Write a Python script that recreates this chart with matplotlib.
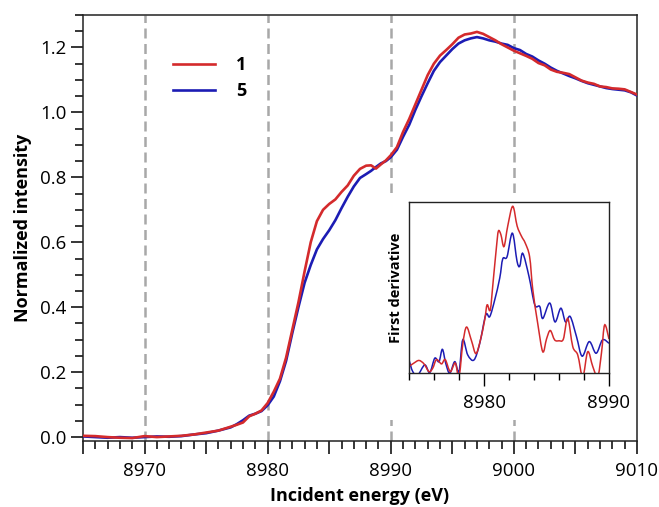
import numpy as np
import matplotlib.pyplot as plt
from matplotlib.patches import Rectangle, PathPatch
from matplotlib.path import Path
from matplotlib.ticker import MultipleLocator, FuncFormatter

plt.rcParams['font.family'] = ['Open Sans', 'DejaVu Sans']

# main spectra (normalized XANES)
energy = [8965, 8966, 8967, 8968, 8969, 8970, 8971, 8972, 8973, 8974, 8975, 8976, 8977,
          8977.5, 8978, 8978.5, 8979, 8979.5, 8980, 8980.5, 8981, 8981.5, 8982, 8982.5,
          8983, 8983.5, 8984, 8984.5, 8985, 8985.5, 8986, 8986.5, 8987, 8987.5, 8988,
          8988.4, 8988.8, 8989.2, 8989.6, 8990, 8990.5, 8991, 8991.5, 8992, 8992.5, 8993,
          8993.5, 8994, 8994.5, 8995, 8995.5, 8996, 8996.5, 8997, 8997.5, 8998, 8998.5,
          8999, 8999.5, 9000, 9000.5, 9001, 9001.5, 9002, 9002.5, 9003, 9003.5, 9004,
          9004.5, 9005, 9005.5, 9006, 9006.5, 9007, 9007.5, 9008, 9008.5, 9009, 9009.5, 9010]
sample1 = [0.004, 0.003, 0.0, -0.002, -0.003, 0.003, 0.0, 0.002, 0.004, 0.008, 0.014, 0.02, 0.032,
           0.038, 0.045, 0.064, 0.072, 0.082, 0.105, 0.14, 0.18, 0.245, 0.33, 0.415,
           0.51, 0.6, 0.665, 0.7, 0.718, 0.732, 0.755, 0.775, 0.805, 0.826, 0.836,
           0.837, 0.827, 0.84, 0.852, 0.868, 0.893, 0.94, 0.98, 1.025, 1.07, 1.115,
           1.15, 1.175, 1.192, 1.21, 1.23, 1.24, 1.243, 1.248, 1.242, 1.232, 1.222,
           1.21, 1.2, 1.19, 1.182, 1.174, 1.165, 1.152, 1.145, 1.132, 1.125, 1.122,
           1.118, 1.108, 1.098, 1.092, 1.088, 1.08, 1.078, 1.074, 1.073, 1.071, 1.063, 1.055]
sample5 = [0.002, 0.0, -0.002, 0.0, -0.002, 0.0, 0.002, 0.001, 0.003, 0.008, 0.012, 0.02, 0.03,
           0.04, 0.052, 0.066, 0.072, 0.08, 0.098, 0.125, 0.172, 0.235, 0.32, 0.4,
           0.475, 0.53, 0.578, 0.61, 0.637, 0.668, 0.705, 0.74, 0.772, 0.798, 0.81,
           0.82, 0.832, 0.843, 0.85, 0.862, 0.885, 0.925, 0.962, 1.008, 1.05, 1.09,
           1.128, 1.155, 1.175, 1.195, 1.212, 1.222, 1.228, 1.232, 1.228, 1.222, 1.218,
           1.212, 1.208, 1.198, 1.192, 1.18, 1.172, 1.16, 1.15, 1.138, 1.128, 1.12,
           1.112, 1.105, 1.097, 1.09, 1.085, 1.08, 1.075, 1.072, 1.07, 1.068, 1.062, 1.052]

# first derivative (arbitrary units)
e_der1 = [8974.0, 8974.4, 8974.8, 8975.2, 8975.6, 8975.9, 8976.2, 8976.6, 8976.9, 8977.3,
          8977.7, 8978.0, 8978.3, 8978.6, 8979.0, 8979.35, 8979.7, 8980.05, 8980.25, 8980.5,
          8980.75, 8981.0, 8981.15, 8981.35, 8981.6, 8981.9, 8982.3, 8982.65, 8983.0, 8983.3,
          8983.65, 8983.9, 8984.3, 8984.7, 8985.0, 8985.3, 8985.65, 8986.0, 8986.35, 8986.7,
          8987.1, 8987.5, 8987.9, 8988.3, 8988.7, 8989.1, 8989.4, 8989.65, 8990.0]
der1 = [0.04, 0.06, 0.075, 0.055, 0.01, 0.03, 0.08, 0.055, 0.08, 0.01,
        0.06, -0.02, 0.17, 0.27, 0.19, 0.115, 0.19, 0.31, 0.40, 0.37,
        0.55, 0.74, 0.83, 0.81, 0.74, 0.86, 0.975, 0.86, 0.80, 0.76,
        0.68, 0.49, 0.29, 0.126, 0.2, 0.25, 0.195, 0.19, 0.2, 0.32,
        0.156, 0.107, -0.02, 0.126, 0.04, -0.02, 0.12, 0.282, 0.20]
e_der5 = [8974.0, 8974.3, 8974.7, 8975.26, 8975.66, 8976.06, 8976.4, 8976.67, 8976.94, 8977.26,
          8977.66, 8978.0, 8978.3, 8978.7, 8979.2, 8979.66, 8980.14, 8980.46, 8980.86, 8981.26,
          8981.5, 8981.84, 8982.27, 8982.64, 8982.86, 8983.1, 8983.6, 8984.06, 8984.46, 8984.7,
          8985.26, 8985.68, 8986.15, 8986.52, 8986.9, 8987.4, 8987.85, 8988.42, 8988.97, 8989.48, 8990.0]
der5 = [0.078, 0.01, -0.01, 0.049, 0.004, 0.088, 0.068, 0.14, 0.058, 0.0,
        0.068, 0.01, 0.195, 0.107, 0.078, 0.175, 0.341, 0.331, 0.429, 0.556,
        0.668, 0.68, 0.818, 0.655, 0.625, 0.70, 0.565, 0.40, 0.39, 0.32,
        0.41, 0.30, 0.38, 0.30, 0.331, 0.214, 0.10, 0.185, 0.117, 0.195, 0.175]

red = '#d42a2c'
blue = '#1c1cb4'
grey = '#a8a8a8'


def smooth_path(x, y):
    # Catmull-Rom style bezier through the read points
    pts = np.column_stack([x, y])
    p = np.vstack([pts[0], pts, pts[-1]])
    verts = [pts[0]]
    codes = [Path.MOVETO]
    for i in range(1, len(p) - 2):
        c1 = p[i] + (p[i + 1] - p[i - 1]) / 6
        c2 = p[i + 1] - (p[i + 2] - p[i]) / 6
        verts += [c1, c2, p[i + 1]]
        codes += [Path.CURVE4] * 3
    return Path(verts, codes)


fig = plt.figure(figsize=(6.59, 5.07), dpi=100)
ax = fig.add_axes([0.1259, 0.1302, 0.8407, 0.8402])

for xv in [8970, 8980, 8990, 9000]:
    ax.axvline(xv, color=grey, lw=1.8, dashes=(4, 2.2), zorder=1)

ax.plot(energy, sample5, color=blue, lw=1.9, label='5', zorder=3)
ax.plot(energy, sample1, color=red, lw=1.9, label='1', zorder=4)

ax.set_xlim(8965, 9010)
ax.set_ylim(-0.012, 1.3)
ax.xaxis.set_major_locator(MultipleLocator(5))
ax.xaxis.set_minor_locator(MultipleLocator(1))
ax.xaxis.set_major_formatter(FuncFormatter(lambda v, p: f'{v:.0f}' if round(v) % 10 == 0 else ''))
ax.yaxis.set_major_locator(MultipleLocator(0.2))
ax.yaxis.set_minor_locator(MultipleLocator(0.05))
ax.yaxis.set_major_formatter(FuncFormatter(lambda v, p: f'{v:.1f}'))
ax.tick_params(which='major', direction='out', length=9, width=1.1, labelsize=13.5, pad=6)
ax.tick_params(which='minor', direction='out', length=5.5, width=1.1)
ax.tick_params(axis='y', which='major', pad=3)
for s in ax.spines.values():
    s.set_linewidth(1.1)
    s.set_color('#222222')

ax.set_xlabel('Incident energy (eV)', fontsize=13, fontweight='bold', labelpad=5)
ax.set_ylabel('Normalized intensity', fontsize=13, fontweight='bold', labelpad=6)

h, l = ax.get_legend_handles_labels()
leg = ax.legend(h[::-1], l[::-1], loc='upper left', bbox_to_anchor=(0.1625, 0.904),
                frameon=False, prop={'weight': 'bold', 'size': 13},
                handlelength=2.3, handletextpad=1.2, labelspacing=0.45,
                borderpad=0, borderaxespad=0)

# white backing behind inset (hides dashed lines)
fig.add_artist(Rectangle((385 / 659, 1 - 420 / 507), (632 - 385) / 659, (420 - 193) / 507,
                         transform=fig.transFigure, facecolor='white', edgecolor='none', zorder=1))

ins = fig.add_axes([409 / 659, 1 - 373.3 / 507, 200 / 659, 171.3 / 507], zorder=2)
ins.add_patch(PathPatch(smooth_path(e_der5, der5), facecolor='none', edgecolor=blue, lw=1.1))
ins.add_patch(PathPatch(smooth_path(e_der1, der1), facecolor='none', edgecolor=red, lw=1.1))
ins.set_xlim(8974, 8990)
ins.set_ylim(0, 1.0)
ins.set_yticks([])
ins.xaxis.set_major_locator(MultipleLocator(10))
ins.xaxis.set_minor_locator(MultipleLocator(2))
ins.tick_params(which='major', direction='out', length=9, width=1, labelsize=13.5, pad=6)
ins.tick_params(which='minor', direction='out', length=5, width=1)
for s in ins.spines.values():
    s.set_linewidth(1)
    s.set_color('#222222')
ins.set_ylabel('First derivative', fontsize=10.5, fontweight='bold', labelpad=4)

fig.savefig('out.png', dpi=100)
